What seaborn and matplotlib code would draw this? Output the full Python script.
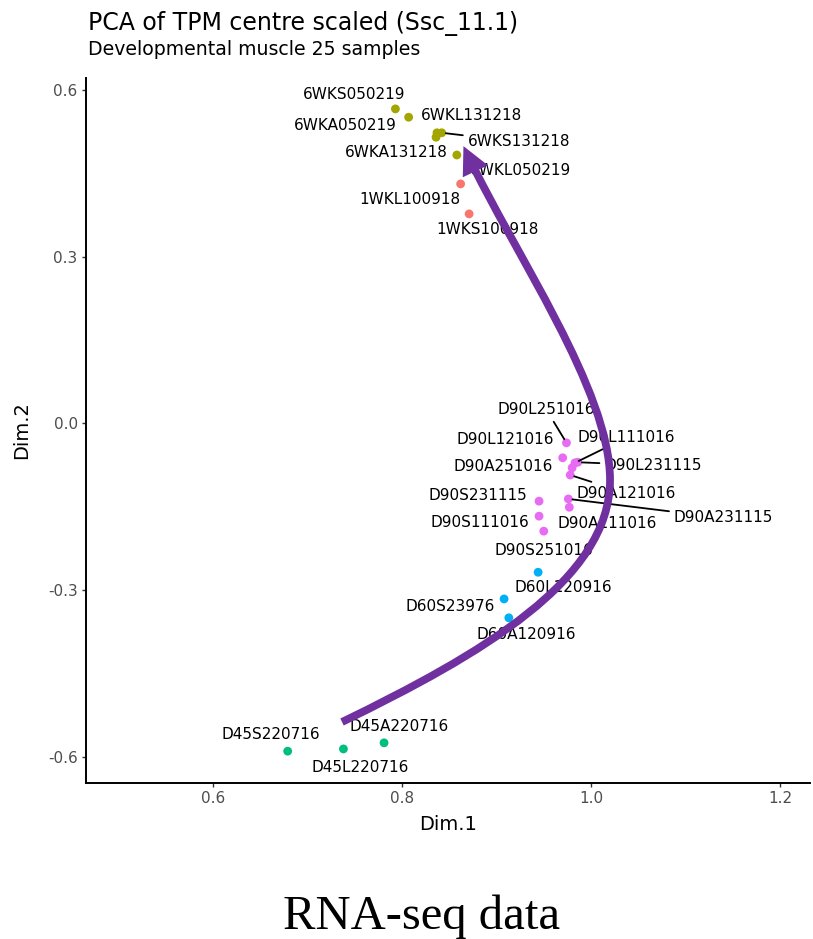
import matplotlib
matplotlib.use("Agg")
import matplotlib.pyplot as plt
import seaborn as sns
import pandas as pd
from matplotlib.path import Path
from matplotlib.patches import FancyArrowPatch

# ---------------- data ----------------
samples = ["6WKS050219", "6WKL131218", "6WKA050219", "6WKS131218", "6WKL050219", "6WKA131218",
           "1WKL100918", "1WKS100918",
           "D90L251016", "D90L121016", "D90L111016", "D90L231115", "D90A251016", "D90A121016",
           "D90S231115", "D90A231115", "D90S111016", "D90A111016", "D90S251016",
           "D60L120916", "D60S23976", "D60A120916",
           "D45S220716", "D45L220716", "D45A220716"]
groups = ["6WK"] * 6 + ["1WK"] * 2 + ["D90"] * 11 + ["D60"] * 3 + ["D45"] * 3
dim1 = [0.793, 0.807, 0.836, 0.842, 0.837, 0.858,
        0.862, 0.871,
        0.974, 0.970, 0.983, 0.986, 0.980, 0.978,
        0.945, 0.976, 0.945, 0.977, 0.950,
        0.944, 0.908, 0.913,
        0.679, 0.738, 0.781]
dim2 = [0.566, 0.551, 0.515, 0.523, 0.523, 0.483,
        0.431, 0.377,
        -0.035, -0.062, -0.071, -0.070, -0.080, -0.093,
        -0.140, -0.136, -0.167, -0.151, -0.194,
        -0.268, -0.316, -0.350,
        -0.590, -0.586, -0.575]
x_ticks = [0.6, 0.8, 1.0, 1.2]
y_ticks = [-0.6, -0.3, 0.0, 0.3, 0.6]
y_tick_labels = ["-0.6", "-0.3", "0.0", "0.3", "0.6"]

palette = {"1WK": "#F8766D", "6WK": "#A3A500", "D45": "#00BF7D",
           "D60": "#00B0F6", "D90": "#E76BF3"}

# label placement (offsets in pixels from the point) and which labels get a segment
label_offsets = {
    "6WKS050219": (-41, 14), "6WKL131218": (63, 2), "6WKA050219": (-91, 12),
    "6WKS131218": (77, -9), "6WKL050219": (84, -38), "6WKA131218": (-61, 3),
    "1WKL100918": (-51, -16), "1WKS100918": (18, -16),
    "D90L251016": (-20, 33), "D90L121016": (-57, 18), "D90L111016": (51, 25),
    "D90L231115": (75, -3), "D90A251016": (-69, 1), "D90A121016": (56, -18),
    "D90S231115": (-61, 6), "D90A231115": (155, -19), "D90S111016": (-59, -6),
    "D90A111016": (38, -16), "D90S251016": (0, -19),
    "D60L120916": (25, -15), "D60S23976": (-54, -8), "D60A120916": (17, -17),
    "D45S220716": (-17, 17), "D45L220716": (17, -19), "D45A220716": (15, 16),
}
segment_labels = {"6WKS131218", "D90L251016", "D90L111016", "D90L231115",
                  "D90A121016", "D90A231115"}

df = pd.DataFrame({"sample": samples, "group": groups, "Dim.1": dim1, "Dim.2": dim2})

# ---------------- figure ----------------
sns.set_theme(style="ticks")
plt.rcParams["font.family"] = ["DejaVu Sans"]

fig = plt.figure(figsize=(8.13, 9.39), dpi=100)
W, H = 813, 939
ax = fig.add_axes([86 / W, 1 - 783 / H, (810 - 86) / W, (783 - 78) / H])

sns.scatterplot(data=df, x="Dim.1", y="Dim.2", hue="group", palette=palette,
                s=40, edgecolor="none", legend=False, ax=ax, zorder=3)

for _, r in df.iterrows():
    dx, dy = label_offsets[r["sample"]]
    kw = {}
    if r["sample"] in segment_labels:
        kw["arrowprops"] = dict(arrowstyle="-", color="black", lw=1.3,
                                shrinkA=1, shrinkB=3)
    ax.annotate(r["sample"], xy=(r["Dim.1"], r["Dim.2"]), xytext=(dx, dy),
                textcoords="offset pixels", ha="center", va="center",
                fontsize=11, color="black", zorder=4, **kw)

ax.set_xlim(0.4656, 1.2317)
ax.set_ylim(-0.6473, 0.6216)
ax.set_xticks(x_ticks)
ax.set_xticklabels([f"{v:.1f}" for v in x_ticks])
ax.set_yticks(y_ticks)
ax.set_yticklabels(y_tick_labels)
ax.tick_params(axis="both", colors="#333333", labelcolor="#4D4D4D",
               labelsize=11, length=3, width=1, pad=3)
for side in ("left", "bottom"):
    ax.spines[side].set_linewidth(1.4)
    ax.spines[side].set_color("black")
sns.despine(ax=ax)
ax.set_xlabel("Dim.1", fontsize=14, color="black", labelpad=6)
ax.set_ylabel("Dim.2", fontsize=14, color="black", labelpad=12)

# curved developmental-trajectory arrow (annotation)
verts = [(0.7365, -0.5375), (0.8825, -0.4169), (1.0201, -0.2819), (1.0201, -0.1019),
         (1.0201, 0.0600), (0.9196, 0.3030), (0.8650, 0.4990)]
codes = [Path.MOVETO, Path.CURVE4, Path.CURVE4, Path.CURVE4,
         Path.CURVE4, Path.CURVE4, Path.CURVE4]
arrow = FancyArrowPatch(path=Path(verts, codes),
                        arrowstyle="-|>,head_length=11,head_width=5.5",
                        mutation_scale=1, color="#7030A0", lw=5.6,
                        capstyle="butt", joinstyle="miter", zorder=5)
ax.add_patch(arrow)

fig.text(88 / W, 1 - 30 / H, "PCA of TPM centre scaled (Ssc_11.1)",
         fontsize=17, va="baseline", ha="left", color="black")
fig.text(88 / W, 1 - 55 / H, "Developmental muscle 25 samples",
         fontsize=13.6, va="baseline", ha="left", color="black")
fig.text(422 / W, 1 - 929 / H, "RNA-seq data", fontsize=35,
         family=["Liberation Serif"], va="baseline", ha="center", color="black")

fig.savefig("out.png", dpi=100)
